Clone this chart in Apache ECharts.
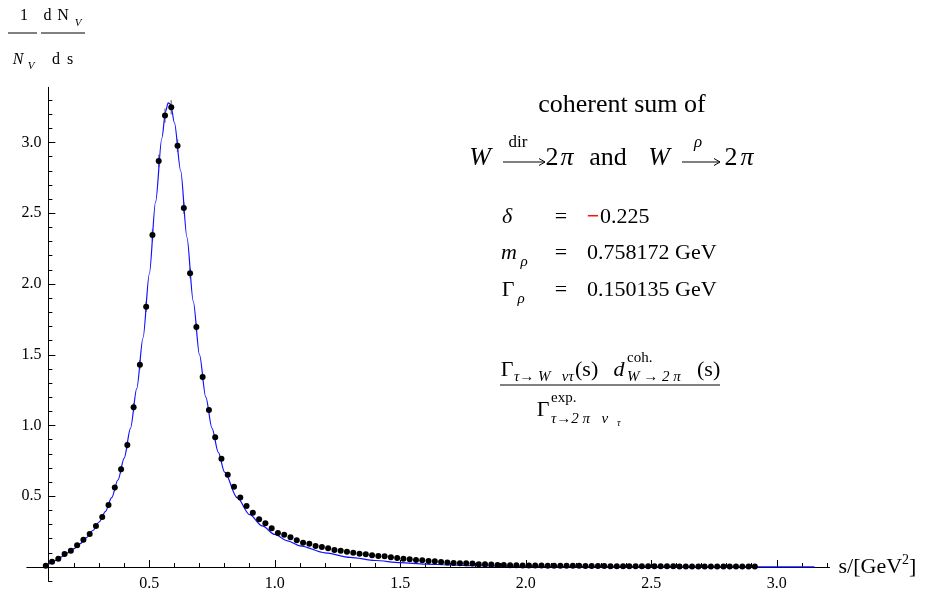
<!DOCTYPE html>
<html><head><meta charset="utf-8">
<script src="https://cdn.jsdelivr.net/npm/echarts/dist/echarts.min.js"></script>
<style>html,body{margin:0;padding:0;background:#fff}#c{width:936px;height:592px}</style>
</head><body><div id="c"></div>
<script>
// ---- data: bin centres s [GeV^2] and measured (1/N dN/ds) with errors ----
const sBins = [
0.0875,0.1125,0.1375,0.1625,0.1875,0.2125,0.2375,0.2625,0.2875,0.3125,
0.3375,0.3625,0.3875,0.4125,0.4375,0.4625,0.4875,0.5125,0.5375,0.5625,
0.5875,0.6125,0.6375,0.6625,0.6875,0.7125,0.7375,0.7625,0.7875,0.8125,
0.8375,0.8625,0.8875,0.9125,0.9375,0.9625,0.9875,1.0125,1.0375,1.0625,
1.0875,1.1125,1.1375,1.1625,1.1875,1.2125,1.2375,1.2625,1.2875,1.3125,
1.3375,1.3625,1.3875,1.4125,1.4375,1.4625,1.4875,1.5125,1.5375,1.5625,
1.5875,1.6125,1.6375,1.6625,1.6875,1.7125,1.7375,1.7625,1.7875,1.8125,
1.8375,1.8625,1.8875,1.9125,1.9375,1.9625,1.9875,2.0125,2.0375,2.0625,
2.0875,2.1125,2.1375,2.1625,2.1875,2.2125,2.2375,2.2625,2.2875,2.3125,
2.3375,2.3625,2.3875,2.4125,2.4375,2.4625,2.4875,2.5125,2.5375,2.5625,
2.5875,2.6125,2.6375,2.6625,2.6875,2.7125,2.7375,2.7625,2.7875,2.8125,
2.8375,2.8625,2.8875,2.9125];
const dataValues = [
0.009,0.037,0.059,0.092,0.115,0.153,0.193,0.233,0.290,0.353,
0.438,0.561,0.690,0.862,1.129,1.430,1.840,2.346,2.869,3.190,
3.249,2.977,2.537,2.076,1.696,1.343,1.110,0.917,0.765,0.652,
0.567,0.492,0.431,0.384,0.337,0.309,0.273,0.240,0.228,0.210,
0.189,0.172,0.165,0.148,0.141,0.132,0.120,0.115,0.108,0.101,
0.094,0.090,0.083,0.078,0.076,0.069,0.064,0.059,0.054,0.050,
0.048,0.043,0.041,0.036,0.031,0.029,0.026,0.026,0.024,0.019,
0.019,0.017,0.014,0.014,0.012,0.012,0.011,0.011,0.010,0.010,
0.009,0.009,0.009,0.008,0.008,0.008,0.007,0.007,0.007,0.007,
0.006,0.006,0.006,0.006,0.006,0.005,0.005,0.005,0.005,0.005,
0.005,0.004,0.004,0.004,0.004,0.004,0.004,0.004,0.003,0.003,
0.003,0.003,0.003,0.003];
const dataErrors = [
0.005,0.006,0.007,0.008,0.009,0.010,0.011,0.012,0.013,0.015,
0.017,0.020,0.022,0.025,0.030,0.033,0.037,0.040,0.045,0.050,
0.050,0.045,0.040,0.035,0.030,0.025,0.020,0.018,0.015,0.013,
0.012,0.011,0.010,0.010,0.009,0.009,0.008,0.008,0.008,0.007,
0.007,0.007,0.006,0.006,0.006,0.006,0.005,0.005,0.005,0.005,
0.005,0.004,0.004,0.004,0.004,0.004,0.004,0.004,0.003,0.003,
0.003,0.003,0.003,0.003,0.003,0.003,0.003,0.003,0.003,0.003,
0.003,0.003,0.003,0.003,0.003,0.003,0.003,0.003,0.003,0.003,
0.003,0.003,0.003,0.003,0.003,0.003,0.003,0.003,0.003,0.003,
0.003,0.003,0.003,0.003,0.003,0.003,0.003,0.003,0.003,0.003,
0.003,0.003,0.003,0.003,0.003,0.003,0.003,0.003,0.003,0.003,
0.003,0.003,0.003,0.003];
// ---- theory curve (coherent sum) ----
const curveS = [0.085,0.1,0.125,0.15,0.175,0.2,0.225,0.25,0.275,0.3,0.325,0.35,0.375,0.4,0.425,0.45,0.475,0.5,0.525,0.55,0.565,0.575,0.585,0.6,0.625,0.65,0.675,0.7,0.725,0.75,0.775,0.8,0.85,0.9,0.95,1.0,1.05,1.1,1.2,1.3,1.4,1.5,1.6,1.7,1.8,1.9,2.0,2.2,2.5,2.8,3.15];
const curveV = [0.005,0.022,0.045,0.072,0.100,0.130,0.165,0.208,0.258,0.318,0.392,0.49,0.615,0.77,0.98,1.26,1.62,2.07,2.58,3.03,3.22,3.28,3.27,3.14,2.80,2.33,1.88,1.50,1.20,0.98,0.81,0.67,0.49,0.37,0.29,0.23,0.185,0.15,0.10,0.068,0.046,0.031,0.021,0.014,0.009,0.006,0.004,0.002,0.001,0.0005,0.0002];
// ---- tick labels ----
const xTickLabels = ['0.5','1.0','1.5','2.0','2.5','3.0'];
const yTickLabels = ['0.5','1.0','1.5','2.0','2.5','3.0'];

const FONT = '"Liberation Serif","Times New Roman",serif';
const W = 936, H = 592;
const X0 = 23.8, XU = 251, Y0 = 567, YU = 141.5;
const px = v => X0 + v * XU, py = v => Y0 - v * YU;
const lab = (arr, step) => v => { const i = Math.round(v / step) - 1; return arr[i] !== undefined ? arr[i] : ''; };

const gridBase = {outerBoundsMode: 'none', containLabel: false};
const grid = [
  Object.assign({left: px(0.012), right: W - px(3.21), top: py(3.39), bottom: H - py(-0.1)}, gridBase),
  Object.assign({left: px(0.098), width: 10, top: py(3.3), bottom: H - py(-0.1)}, gridBase),
  Object.assign({left: px(0.098), width: 10, top: py(3.0), bottom: H - py(0.5)}, gridBase),
  Object.assign({left: px(0.2), right: W - px(3.2), top: 300, bottom: H - Y0}, gridBase),
  Object.assign({left: px(0.5), right: W - px(3.0), top: 300, bottom: H - Y0}, gridBase)
];
const blk = {color: '#000', width: 1};
const hidden = i => ({gridIndex: i, type: 'value', show: false, min: 0, max: 1});
const xAxis = [
  {gridIndex: 0, type: 'value', min: 0.012, max: 3.21,
   axisLine: {onZero: true, lineStyle: blk}, axisTick: {show: false}, axisLabel: {show: false}, splitLine: {show: false},
   name: '{a|s/[GeV}{b|2}{a|]}', nameLocation: 'end', nameGap: 9,
   nameTextStyle: {rich: {a: {fontFamily: FONT, fontSize: 22, color: '#000'}, b: {fontFamily: FONT, fontSize: 14, color: '#000', padding: [0, 0, 13, 0]}}}},
  hidden(1), hidden(2),
  {gridIndex: 3, type: 'value', min: 0.2, max: 3.2, interval: 0.1,
   axisLine: {show: false}, axisTick: {inside: true, length: 4, lineStyle: blk}, axisLabel: {show: false}, splitLine: {show: false}},
  {gridIndex: 4, type: 'value', min: 0.5, max: 3.0, interval: 0.5,
   axisLine: {show: false}, axisTick: {inside: true, length: 7, lineStyle: blk}, splitLine: {show: false},
   axisLabel: {margin: 9, formatter: lab(xTickLabels, 0.5), fontFamily: FONT, fontSize: 16, color: '#000'}}
];
const yAxis = [
  {gridIndex: 0, type: 'value', min: -0.1, max: 3.39, offset: -(px(0.098) - px(0.012)),
   axisLine: {show: true, onZero: false, lineStyle: blk}, axisTick: {show: false}, axisLabel: {show: false}, splitLine: {show: false}},
  {gridIndex: 1, type: 'value', min: -0.1, max: 3.3, interval: 0.1,
   axisLine: {show: false}, axisTick: {inside: true, length: 4, lineStyle: blk}, axisLabel: {show: false}, splitLine: {show: false}},
  {gridIndex: 2, type: 'value', min: 0.5, max: 3.0, interval: 0.5,
   axisLine: {show: false}, axisTick: {inside: true, length: 7, lineStyle: blk}, splitLine: {show: false},
   axisLabel: {margin: 7, formatter: lab(yTickLabels, 0.5), fontFamily: FONT, fontSize: 16, color: '#000'}},
  hidden(3), hidden(4)
];

// ---- annotation text ----
function T(x, y, text, size, o) {
  o = o || {};
  return {type: 'text', x: x, y: y, z: 10, style: {text: text, fontSize: size, fontFamily: FONT,
    fontStyle: o.it ? 'italic' : 'normal', fontWeight: o.b ? 'bold' : 'normal', fill: o.c || '#000', align: o.al || 'center', verticalAlign: 'middle'}};
}
function L(x1, y1, x2, y2) { return {type: 'line', z: 10, shape: {x1, y1, x2, y2}, style: {stroke: '#000', lineWidth: 1}}; }
function arrow(x1, x2, y) {
  return [L(x1, y, x2, y), {type: 'polyline', z: 10, shape: {points: [[x2 - 6, y - 3.5], [x2, y], [x2 - 6, y + 3.5]]}, style: {stroke: '#000', fill: null, lineWidth: 1}}];
}
const graphic = [
  // y axis label 1/N_V dN_V/ds
  T(24, 16, '1', 16), L(8, 33, 37, 33),
  T(18, 60, 'N', 16, {it: 1}), T(31, 66, 'V', 11, {it: 1}),
  T(47.5, 16, 'd', 16), T(63, 16, 'N', 16), T(78, 23, 'V', 11, {it: 1}),
  L(41, 33, 85, 33),
  T(56, 60, 'd', 16), T(70, 60, 's', 16),
  // title
  T(622, 105, 'coherent sum of', 26),
  T(480, 158, 'W', 26, {it: 1}), ...arrow(503, 545, 162), T(518, 143, 'dir', 17),
  T(552, 158, '2', 26), T(567, 158, 'π', 26, {it: 1}),
  T(608, 158, 'and', 26),
  T(659, 158, 'W', 26, {it: 1}), ...arrow(682, 720, 162), T(698, 143, 'ρ', 17, {it: 1}),
  T(731, 158, '2', 26), T(747, 158, 'π', 26, {it: 1}),
  // parameters
  T(507, 217, 'δ', 22, {it: 1}), T(561, 217, '=', 22), T(593, 217, '−', 22, {c: '#ff1010', b: 1}), T(600, 217, '0.225', 22, {al: 'left'}),
  T(509, 253, 'm', 22, {it: 1}), T(524, 262, 'ρ', 15, {it: 1}), T(561, 253, '=', 22), T(587, 253, '0.758172 GeV', 22, {al: 'left'}),
  T(508, 290, 'Γ', 22), T(521, 299, 'ρ', 15, {it: 1}), T(561, 290, '=', 22), T(587, 290, '0.150135 GeV', 22, {al: 'left'}),
  // ratio
  T(507, 370, 'Γ', 22), T(514, 377, 'τ→ W   ντ', 15, {it: 1, al: 'left'}),
  T(575, 370, '(s)', 22, {al: 'left'}), T(619, 370, 'd', 22, {it: 1}),
  T(627, 358, 'coh.', 15, {al: 'left'}), T(627, 377, 'W → 2 π', 15, {it: 1, al: 'left'}),
  T(697, 370, '(s)', 22, {al: 'left'}),
  L(500, 385, 720, 385),
  T(543, 410, 'Γ', 22), T(551, 398, 'exp.', 15, {al: 'left'}), T(551, 419, 'τ→2 π   ν', 15, {it: 1, al: 'left'}), T(617, 423, 'τ', 10, {it: 1, al: 'left'})
];

const chart = echarts.init(document.getElementById('c'), null, {renderer: 'canvas'});
chart.setOption({
  animation: false,
  backgroundColor: '#fff',
  grid: grid, xAxis: xAxis, yAxis: yAxis, graphic: graphic,
  series: [
    {type: 'line', xAxisIndex: 0, yAxisIndex: 0, data: curveS.map((s, i) => [s, curveV[i]]),
     showSymbol: false, smooth: 0.3, smoothMonotone: 'x', lineStyle: {color: '#1010ff', width: 1.2}, z: 3},
    {type: 'custom', xAxisIndex: 0, yAxisIndex: 0, z: 2,
     data: sBins.map((s, i) => [s, dataValues[i], dataErrors[i]]),
     renderItem: function (params, api) {
       const x = api.value(0), y = api.value(1), e = api.value(2);
       const p1 = api.coord([x, y - e]), p2 = api.coord([x, y + e]);
       return {type: 'line', shape: {x1: p1[0], y1: p1[1], x2: p2[0], y2: p2[1]}, style: {stroke: '#8c8c8c', lineWidth: 1.5}};
     }},
    {type: 'scatter', xAxisIndex: 0, yAxisIndex: 0, data: sBins.map((s, i) => [s, dataValues[i]]),
     symbolSize: 6, itemStyle: {color: '#000', opacity: 1}, z: 4}
  ]
});
</script></body></html>
